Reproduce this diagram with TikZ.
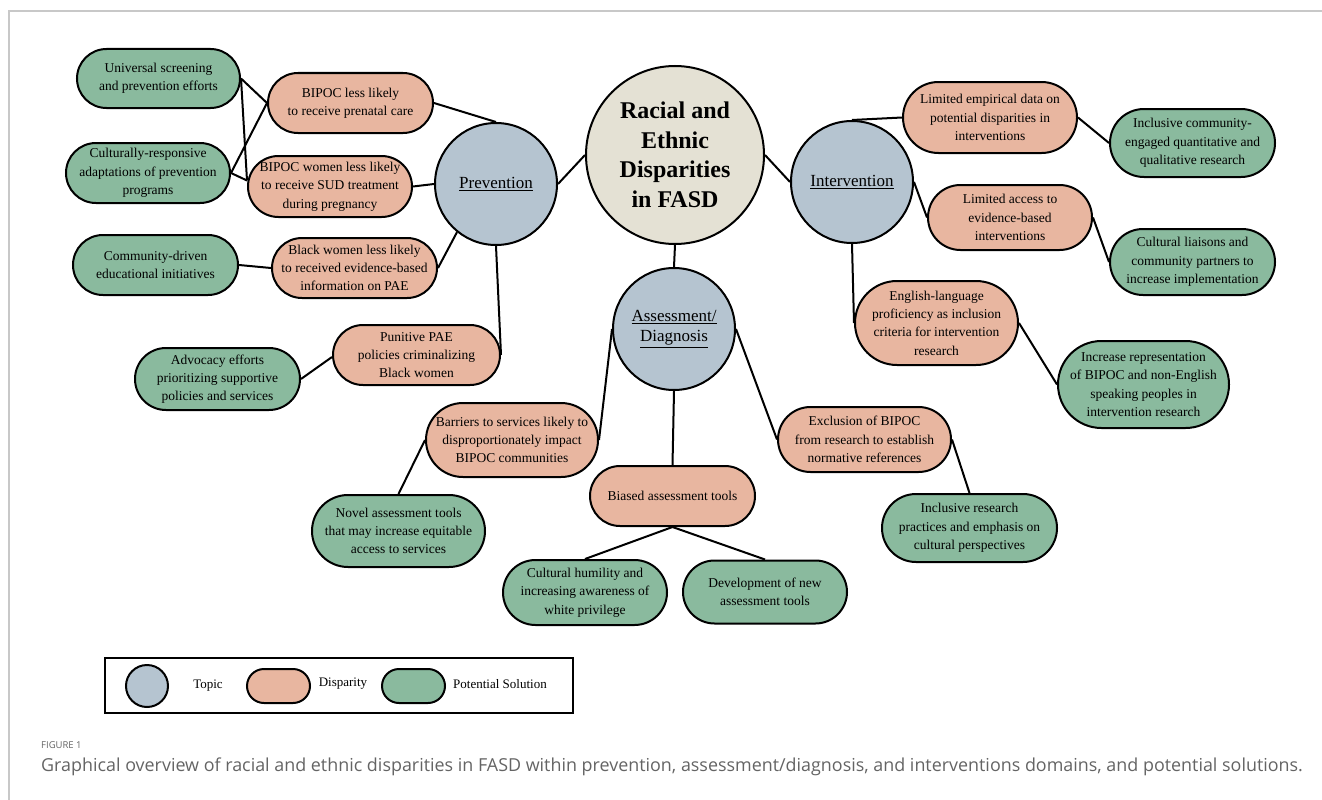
\documentclass[tikz,border=0pt]{standalone}
\usepackage{fontspec}
\setmainfont{Liberation Serif}
\newfontfamily\capfont{Open Sans}
\usepackage{xcolor}
\usepackage{tikz}
\usetikzlibrary{positioning, calc}

\definecolor{topicfill}{RGB}{181,196,208}
\definecolor{hubfill}{RGB}{228,225,212}
\definecolor{dispfill}{RGB}{232,182,160}
\definecolor{solfill}{RGB}{138,186,158}
\definecolor{capgrey}{RGB}{100,100,100}
\definecolor{framegrey}{RGB}{200,200,200}

\tikzset{
  hub/.style={circle, draw=black, line width=2pt, fill=hubfill,
    minimum size=178pt, inner sep=0pt, align=center,
    font=\fontsize{24}{29.5}\selectfont\bfseries},
  topic/.style={circle, draw=black, line width=2pt, fill=topicfill,
    minimum size=122pt, inner sep=0pt, align=center,
    font=\fontsize{17}{20}\selectfont},
  pillsize/.style 2 args={minimum width=#1, minimum height=#2,
    rounded corners=#2/2},
  pill/.style={rectangle, draw=black, line width=2pt,
    pillsize={165}{60}, inner sep=1pt, align=center,
    font=\fontsize{13.5}{18.3}\selectfont},
  disp/.style={pill, fill=dispfill},
  sol/.style={pill, fill=solfill},
  link/.style={draw=black, line width=2pt},
  legtxt/.style={font=\fontsize{13}{15}\selectfont},
}

\begin{document}
\begin{tikzpicture}[x=1pt, y=-1pt]
    \useasboundingbox (0,0) rectangle (1322,800);
    \draw[framegrey, line width=1.2pt] (9,800) -- (9,11) -- (1322,11);

    \node[hub]   (hub)    at (675,155) {Racial and\\Ethnic\\Disparities\\in FASD};
    \node[topic] (prev)   at (496,184) {\underline{Prevention}};
    \node[topic] (interv) at (852,182) {\underline{Intervention}};
    \node[topic] (assess) at (674,329) {\underline{Assessment/}\\\underline{Diagnosis}};

    \node[disp] (prenatal) at (350.5,103) {BIPOC less likely\\to receive prenatal care};
    \node[disp, pillsize={164}{61}] (sud) at (330,186.5)
      {BIPOC women less likely\\to receive SUD treatment\\during pregnancy};
    \node[disp] (pae) at (354.5,268)
      {Black women less likely\\to received evidence-based\\information on PAE};
    \node[disp, pillsize={167}{60}] (punitive) at (416.5,355)
      {Punitive PAE\\policies criminalizing\\Black women};

    \node[sol, pillsize={163}{59}] (universal) at (158.5,78.5)
      {Universal screening\\and prevention efforts};
    \node[sol, pillsize={164}{60}] (adapt) at (148,173)
      {Culturally-responsive\\adaptations of prevention\\programs};
    \node[sol] (educ) at (155.5,265) {Community-driven\\educational initiatives};
    \node[sol, pillsize={165}{62}] (advocacy) at (217.5,379)
      {Advocacy efforts\\prioritizing supportive\\policies and services};

    \node[disp, pillsize={174}{71}] (empirical) at (990,117.5)
      {Limited empirical data on\\potential disparities in\\interventions};
    \node[disp, pillsize={164}{65}] (access) at (1010,217.5)
      {Limited access to\\evidence-based\\interventions};
    \node[disp, pillsize={163}{84}] (english) at (936.5,323)
      {English-language\\proficiency as inclusion\\criteria for intervention\\research};

    \node[sol, pillsize={165}{68}] (inclusive) at (1192.5,143)
      {Inclusive community-\\engaged quantitative and\\qualitative research};
    \node[sol, pillsize={165}{66}] (liaisons) at (1192.5,262)
      {Cultural liaisons and\\community partners to\\increase implementation};
    \node[sol, pillsize={171}{87}] (represent) at (1143.5,384.5)
      {Increase representation\\of BIPOC and non-English\\speaking peoples in\\intervention research};

    \node[disp, pillsize={172}{74}] (barriers) at (512,440)
      {Barriers to services likely to\\disproportionately impact\\BIPOC communities};
    \node[disp] (biased) at (672.5,496) {Biased assessment tools};
    \node[disp, pillsize={173}{65}] (exclusion) at (864.5,439.5)
      {Exclusion of BIPOC\\from research to establish\\normative references};

    \node[sol, pillsize={173}{72}] (novel) at (398.5,531)
      {Novel assessment tools\\that may increase equitable\\access to services};
    \node[sol, pillsize={164}{65}] (humility) at (585,592.5)
      {Cultural humility and\\increasing awareness of\\white privilege};
    \node[sol, pillsize={164}{63}] (develop) at (765,592)
      {Development of new\\assessment tools};
    \node[sol, pillsize={175}{68}] (practices) at (969.5,528)
      {Inclusive research\\practices and emphasis on\\cultural perspectives};

    \draw[link] (hub.west)  -- (prev.east);
    \draw[link] (hub.east)  -- (interv.west);
    \draw[link] (hub.south) -- (assess.north);

    \draw[link] (prenatal.east) -- (prev.north);
    \draw[link] (sud.east)      -- (prev.west);
    \draw[link] (pae.east)      -- (prev.231);
    \draw[link] (prev.south)    -- (punitive.east);
    \draw[link] (universal.east) -- (prenatal.west);
    \draw[link] (universal.east) -- ([yshift=6pt]sud.west);
    \draw[link] (adapt.east)     -- (prenatal.west);
    \draw[link] (adapt.east)     -- ([yshift=6pt]sud.west);
    \draw[link] (educ.east)      -- (pae.west);
    \draw[link] (advocacy.east)  -- ([yshift=-2pt]punitive.west);

    \draw[link] (interv.north)  -- (empirical.west);
    \draw[link] (interv.east)   -- (access.west);
    \draw[link] (interv.south)  -- (english.west);
    \draw[link] (empirical.east) -- (inclusive.west);
    \draw[link] (access.east)    -- (liaisons.west);
    \draw[link] (english.east)   -- (represent.west);

    \draw[link] (assess.west)  -- (barriers.east);
    \draw[link] (assess.south) -- (biased.north);
    \draw[link] (assess.east)  -- (exclusion.west);
    \draw[link] (barriers.west) -- (novel.north);
    \draw[link] (biased.south)  -- (humility.north);
    \draw[link] (biased.south)  -- (develop.north);
    \draw[link] (exclusion.east) -- (practices.north);

    \draw[line width=2pt] (105,658) rectangle (573,713);
    \node[topic, minimum size=42pt] (legtopic) at (147,686) {};
    \node[legtxt] (legtopictxt) at (208,686) {Topic};
    \node[disp, pillsize={63}{34}] (legdisp) at (278.5,686) {};
    \node[legtxt] (legdisptxt) at (343,684) {Disparity};
    \node[sol, pillsize={63}{34}] (legsol) at (413.5,686) {};
    \node[legtxt] (legsoltxt) at (500,684) {Potential Solution};

    \node[anchor=west, inner sep=0pt, text=capgrey,
      font=\capfont\fontsize{9.5}{11}\selectfont] (fig) at (41,745) {FIGURE 1};
    \node[anchor=west, inner sep=0pt, text=capgrey,
      font=\capfont\fontsize{17.9}{20}\selectfont] (caption) at (41,767)
      {Graphical overview of racial and ethnic disparities in FASD within prevention, assessment/diagnosis, and interventions domains, and potential solutions.};
  \end{tikzpicture}
\end{document}
